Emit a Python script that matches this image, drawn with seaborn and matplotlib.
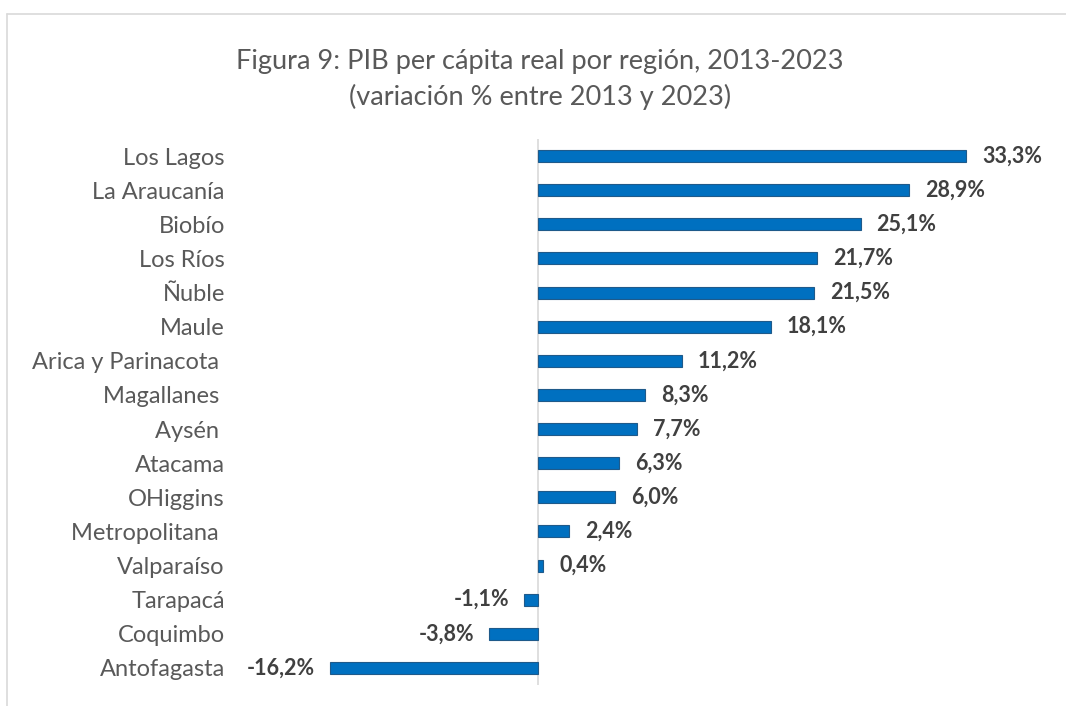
import matplotlib
matplotlib.use("Agg")
import matplotlib.pyplot as plt
import seaborn as sns
import pandas as pd
from matplotlib.lines import Line2D

regions = ["Los Lagos", "La Araucanía", "Biobío", "Los Ríos", "Ñuble", "Maule",
           "Arica y Parinacota ", "Magallanes ", "Aysén ", "Atacama", "OHiggins",
           "Metropolitana ", "Valparaíso", "Tarapacá", "Coquimbo", "Antofagasta"]
values = [33.3, 28.9, 25.1, 21.7, 21.5, 18.1, 11.2, 8.3, 7.7, 6.3, 6.0, 2.4, 0.4,
          -1.1, -3.8, -16.2]
title_lines = ["Figura 9: PIB per cápita real por región, 2013-2023",
               "(variación % entre 2013 y 2023)"]

sns.set_theme(style="white")
plt.rcParams['font.family'] = ['Lato', 'DejaVu Sans']

df = pd.DataFrame({"region": regions, "value": values})

W, H = 1066, 706
fig = plt.figure(figsize=(W / 100, H / 100), dpi=100)
L, R = 306.7, 1026.3
T, B = 139, 685
ax = fig.add_axes([L / W, (H - B) / H, (R - L) / W, (B - T) / H])

sns.barplot(data=df, x="value", y="region", orient="h", ax=ax, color="#0070C0",
            width=0.35, saturation=1, edgecolor="#1F5A8A", linewidth=0.8)

ax.set_xlim(-18, 38)
ax.set_ylim(15.5, -0.5)
for s in ax.spines.values():
    s.set_visible(False)
ax.axvline(0, color="#D9D9D9", lw=1.2, zorder=0)
ax.set_xticks([])
ax.set_xlabel("")
ax.set_ylabel("")
ax.tick_params(axis="y", length=0, pad=59, labelsize=17, labelcolor="#595959")
for lbl in ax.get_yticklabels():
    lbl.set_horizontalalignment("right")

for i, v in enumerate(values):
    txt = f"{v:.1f}%".replace(".", ",")
    if v >= 0:
        ax.annotate(txt, (v, i), xytext=(11.5, 0), textcoords="offset points",
                    ha="left", va="center", fontsize=15.5, fontweight="bold",
                    color="#404040")
    else:
        ax.annotate(txt, (v, i), xytext=(-10.5, 0), textcoords="offset points",
                    ha="right", va="center", fontsize=15.5, fontweight="bold",
                    color="#404040")

fig.text(540 / W, 1 - 62 / H, title_lines[0], ha="center", va="center",
         fontsize=19.5, color="#595959")
fig.text(540 / W, 1 - 97 / H, title_lines[1], ha="center", va="center",
         fontsize=19.5, color="#595959")

fig.add_artist(Line2D([7 / W, 1], [1 - 14 / H, 1 - 14 / H], transform=fig.transFigure,
                      color="#D9D9D9", lw=1.2))
fig.add_artist(Line2D([7 / W, 7 / W], [1 - 14 / H, 0], transform=fig.transFigure,
                      color="#D9D9D9", lw=1.2))

fig.savefig("out.png", dpi=100, facecolor="white")
